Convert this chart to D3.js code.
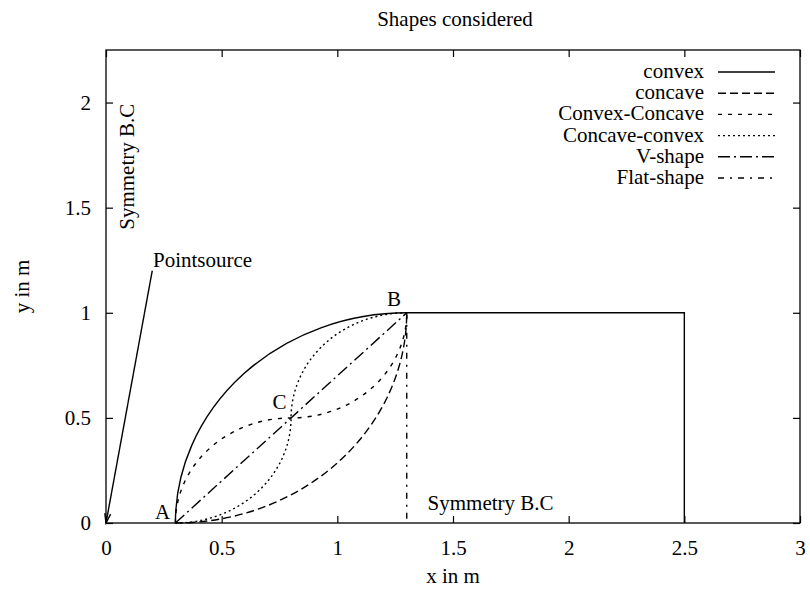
<!DOCTYPE html>
<html>
<head>
<meta charset="utf-8">
<script src="https://cdn.jsdelivr.net/npm/d3@7"></script>
<style>
  body { margin: 0; background: #fff; }
  svg text { font-family: "Liberation Serif", "Times New Roman", serif; fill: #000; }
</style>
</head>
<body>
<svg id="chart" width="810" height="590"></svg>
<script>
// axis ranges and ticks
const xDomain = [0, 3];
const yDomain = [0, 2.25];
const xTicks = [0, 0.5, 1, 1.5, 2, 2.5, 3];
const yTicks = [0, 0.5, 1, 1.5, 2];

// shapes: corner points A(0.3,0), C(0.8,0.5), B(1.3,1)
// segment kinds: "ln" straight, "cx" quarter arc bulging up-left, "cc" quarter arc bulging down-right
const shapeNames = ["convex", "concave", "Convex-Concave", "Concave-convex", "V-shape", "Flat-shape"];
const convexPts = [[0.3, 0], [1.3, 1], [2.5, 1], [2.5, 0]];
const convexSegs = ["cx", "ln", "ln"];
const concavePts = [[0.3, 0], [1.3, 1]];
const concaveSegs = ["cc"];
const convexConcavePts = [[0.3, 0], [0.8, 0.5], [1.3, 1]];
const convexConcaveSegs = ["cx", "cc"];
const concaveConvexPts = [[0.3, 0], [0.8, 0.5], [1.3, 1]];
const concaveConvexSegs = ["cc", "cx"];
const vShapePts = [[0.3, 0], [1.3, 1]];
const vShapeSegs = ["ln"];
const flatPts = [[1.3, 1], [1.3, 0]];
const flatSegs = ["ln"];

// gnuplot postscript dash styles
const dashes = [null, "8,4", "4,6", "2,3", "12,4,2,4", "6,6,2,6"];

// annotations
const pointLabels = [
  {text: "A", at: [0.277, 0.018], anchor: "end"},
  {text: "B", at: [1.245, 1.03], anchor: "middle"},
  {text: "C", at: [0.75, 0.54], anchor: "middle"},
  {text: "Pointsource", at: [0.203, 1.22], anchor: "start"},
  {text: "Symmetry B.C", at: [1.39, 0.062], anchor: "start"}
];
const sideLabel = {text: "Symmetry B.C", at: [0.123, 1.395]};
const arrowFrom = [0.2, 1.2];
const arrowTo = [0, 0];

const svg = d3.select("#chart");
const m = {left: 106, right: 800, top: 50, bottom: 523};
const fs = 21;

const x = d3.scaleLinear().domain(xDomain).range([m.left, m.right]);
const y = d3.scaleLinear().domain(yDomain).range([m.bottom, m.top]);

// title and axis labels
svg.append("text").attr("x", (m.left + m.right) / 2 + 2).attr("y", 26)
  .attr("text-anchor", "middle").style("font-size", fs + "px").text("Shapes considered");
svg.append("text").attr("x", (m.left + m.right) / 2).attr("y", 583)
  .attr("text-anchor", "middle").style("font-size", fs + "px").text("x in m");
svg.append("text").attr("transform", `translate(29,${(m.top + m.bottom) / 2}) rotate(-90)`)
  .attr("text-anchor", "middle").style("font-size", fs + "px").text("y in m");

function styleAxis(g, labels) {
  g.select(".domain").remove();
  g.selectAll(".tick line").attr("stroke", "#000").attr("stroke-width", 1.2);
  if (labels) g.selectAll(".tick text").style("font-size", fs + "px").attr("fill", "#000");
  else g.selectAll(".tick text").remove();
}

const fmt = d => String(d);
svg.append("g").attr("transform", `translate(0,${m.bottom})`)
  .call(d3.axisBottom(x).tickValues(xTicks).tickFormat(fmt).tickSize(-7).tickPadding(17))
  .call(g => styleAxis(g, true));
svg.append("g").attr("transform", `translate(0,${m.top})`)
  .call(d3.axisTop(x).tickValues(xTicks).tickSize(-7))
  .call(g => styleAxis(g, false));
svg.append("g").attr("transform", `translate(${m.left},0)`)
  .call(d3.axisLeft(y).tickValues(yTicks).tickFormat(fmt).tickSize(-7).tickPadding(15))
  .call(g => styleAxis(g, true));
svg.append("g").attr("transform", `translate(${m.right},0)`)
  .call(d3.axisRight(y).tickValues(yTicks).tickSize(-7))
  .call(g => styleAxis(g, false));

svg.append("rect").attr("x", m.left).attr("y", m.top)
  .attr("width", m.right - m.left).attr("height", m.bottom - m.top)
  .attr("fill", "none").attr("stroke", "#000").attr("stroke-width", 1.3);

// build a path from points and segment kinds (elliptical quarter arcs in screen space)
function shapePath(pts, segs) {
  let d = `M${x(pts[0][0])},${y(pts[0][1])}`;
  segs.forEach((s, i) => {
    const a = pts[i], b = pts[i + 1];
    const tx = x(b[0]), ty = y(b[1]);
    if (s === "ln") {
      d += `L${tx},${ty}`;
    } else {
      const rx = Math.abs(tx - x(a[0])), ry = Math.abs(ty - y(a[1]));
      const sweep = s === "cx" ? 1 : 0;
      d += `A${rx},${ry} 0 0 ${sweep} ${tx},${ty}`;
    }
  });
  return d;
}

const shapes = [
  [convexPts, convexSegs], [concavePts, concaveSegs],
  [convexConcavePts, convexConcaveSegs], [concaveConvexPts, concaveConvexSegs],
  [vShapePts, vShapeSegs], [flatPts, flatSegs]
];

const plot = svg.append("g");
shapes.forEach(([pts, segs], i) => {
  plot.append("path").attr("d", shapePath(pts, segs))
    .attr("fill", "none").attr("stroke", "#000").attr("stroke-width", 1.4)
    .attr("stroke-dasharray", dashes[i]);
});

// legend
const legend = svg.append("g");
shapeNames.forEach((name, i) => {
  const ly = 72 + i * 21.2;
  legend.append("text").attr("x", 704).attr("y", ly + 6)
    .attr("text-anchor", "end").style("font-size", fs + "px").text(name);
  legend.append("line").attr("x1", 718).attr("x2", 775).attr("y1", ly).attr("y2", ly)
    .attr("stroke", "#000").attr("stroke-width", 1.4).attr("stroke-dasharray", dashes[i]);
});

// labels
pointLabels.forEach(l => {
  svg.append("text").attr("x", x(l.at[0])).attr("y", y(l.at[1]))
    .attr("text-anchor", l.anchor).style("font-size", fs + "px").text(l.text);
});
svg.append("text").attr("transform", `translate(${x(sideLabel.at[0])},${y(sideLabel.at[1])}) rotate(-90)`)
  .attr("text-anchor", "start").style("font-size", fs + "px").text(sideLabel.text);

// pointsource arrow
const ax0 = x(arrowFrom[0]), ay0 = y(arrowFrom[1]), ax1 = x(arrowTo[0]), ay1 = y(arrowTo[1]);
const ang = Math.atan2(ay1 - ay0, ax1 - ax0);
const hl = 10, ha = 0.3;
svg.append("line").attr("x1", ax0).attr("y1", ay0).attr("x2", ax1).attr("y2", ay1)
  .attr("stroke", "#000").attr("stroke-width", 1.4);
svg.append("path")
  .attr("d", `M${ax1 - hl * Math.cos(ang - ha)},${ay1 - hl * Math.sin(ang - ha)}L${ax1},${ay1}L${ax1 - hl * Math.cos(ang + ha)},${ay1 - hl * Math.sin(ang + ha)}`)
  .attr("fill", "none").attr("stroke", "#000").attr("stroke-width", 1.4);
</script>
</body>
</html>
